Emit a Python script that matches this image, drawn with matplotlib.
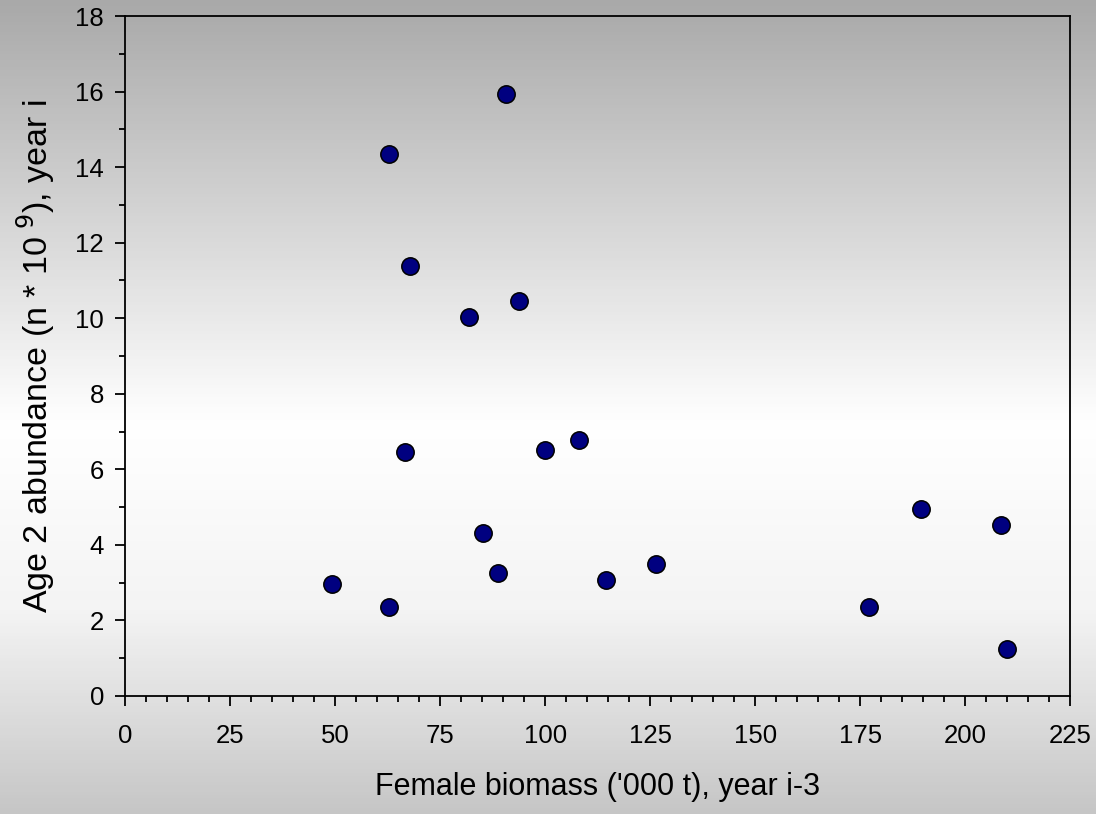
import matplotlib
matplotlib.use('Agg')
import matplotlib.pyplot as plt
import numpy as np
from matplotlib.colors import LinearSegmentedColormap
from matplotlib.ticker import MultipleLocator

plt.rcParams['font.family'] = ['Liberation Sans', 'DejaVu Sans']

# female biomass ('000 t), year i-3
biomass = [49.2, 62.8, 62.8, 67.8, 66.6, 81.9, 85.2, 88.7, 90.6, 93.7,
           100.0, 108.1, 114.5, 126.4, 177.0, 189.5, 208.5, 210.1]
# age 2 abundance (n * 10^9), year i
abundance = [2.96, 14.34, 2.36, 11.39, 6.47, 10.04, 4.31, 3.25, 15.94, 10.45,
             6.51, 6.78, 3.06, 3.49, 2.36, 4.94, 4.53, 1.24]

fig = plt.figure(figsize=(10.96, 8.14), dpi=100)

# grey -> white -> grey background
bg = fig.add_axes([0, 0, 1, 1], zorder=-10)
cmap = LinearSegmentedColormap.from_list(
    'bg', [(0.0, '#a9a9a9'), (0.52, '#ffffff'), (0.75, '#f4f4f4'), (1.0, '#c6c6c6')])
bg.imshow(np.linspace(0, 1, 256).reshape(-1, 1), aspect='auto', cmap=cmap,
          extent=[0, 1, 0, 1])
bg.set_axis_off()

ax = fig.add_axes([0.1145, 0.145, 0.8618, 0.8353])
ax.patch.set_alpha(0)

ax.plot(biomass, abundance, 'o', color='#000080', markersize=12.5,
        markeredgecolor='black', markeredgewidth=1.1, clip_on=False)

ax.set_xlim(0, 225)
ax.set_ylim(0, 18)
ax.xaxis.set_major_locator(MultipleLocator(25))
ax.xaxis.set_minor_locator(MultipleLocator(5))
ax.yaxis.set_major_locator(MultipleLocator(2))
ax.yaxis.set_minor_locator(MultipleLocator(1))

for s in ax.spines.values():
    s.set_linewidth(1.3)
ax.tick_params(which='major', direction='out', length=7.5, width=1.3,
               labelsize=18.5, pad=13)
ax.tick_params(which='minor', direction='out', length=4.5, width=1.3)
ax.tick_params(axis='y', pad=8)

ax.set_xlabel("Female biomass ('000 t), year i-3", fontsize=22, labelpad=17)
ax.set_ylabel("Age 2 abundance (n * 10$^{\\ 9}$), year i", fontsize=24.5,
              labelpad=13)

fig.savefig('out.png', dpi=100)
